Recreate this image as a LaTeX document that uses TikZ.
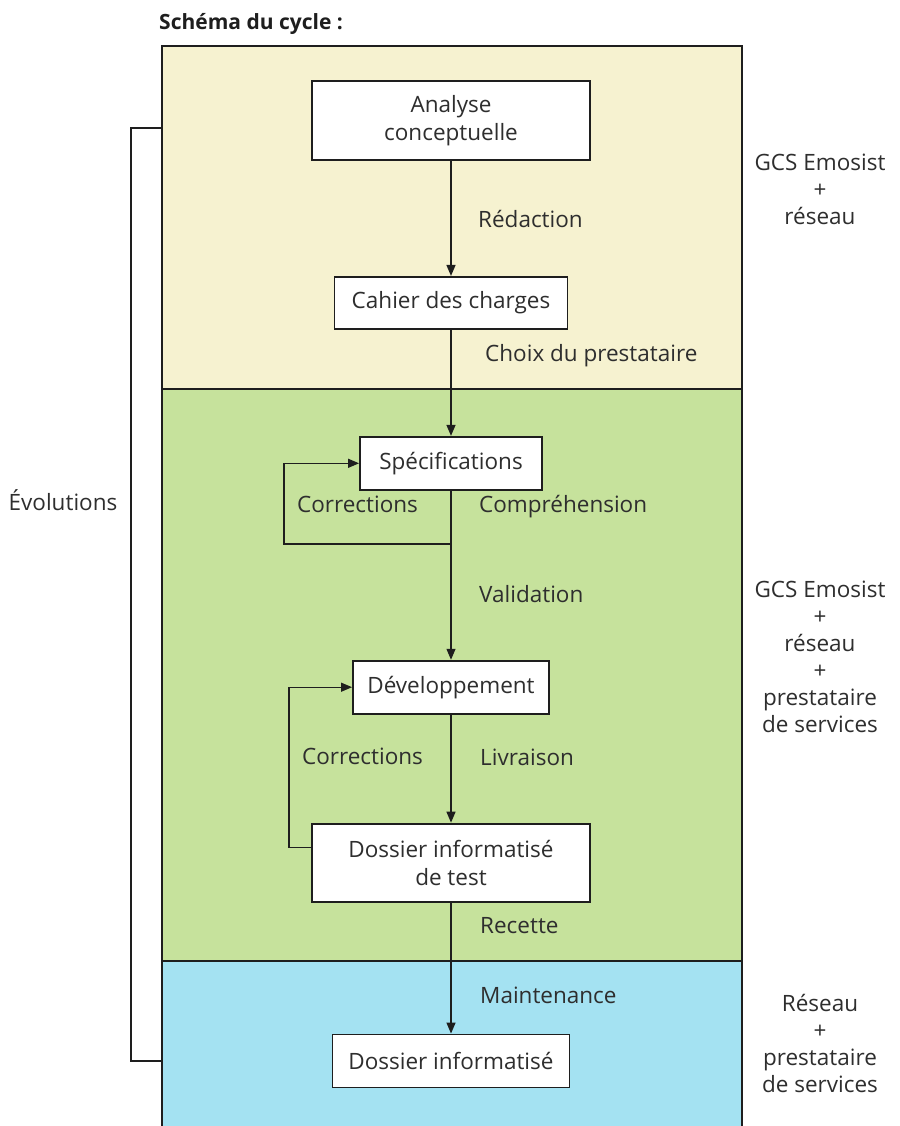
\documentclass[tikz,border=0pt]{standalone}
\usepackage{fontspec}
\setmainfont{Open Sans}
\usetikzlibrary{arrows.meta,positioning}
\definecolor{cyJaune}{HTML}{F6F2D0}
\definecolor{cyVert}{HTML}{C6E29C}
\definecolor{cyBleu}{HTML}{A4E2F2}
\definecolor{cyTrait}{HTML}{1E1E1E}
\definecolor{cyEncre}{HTML}{2E2E2E}
\tikzset{
  cybox/.style={
    rectangle, draw=cyTrait, line width=1.9pt, fill=white,
    text=cyEncre, font=\fontsize{22.5}{28}\selectfont,
    align=center, inner sep=2pt
  },
  cylink/.style={-{Triangle[length=11pt,width=9pt]}, draw=cyTrait, line width=1.3pt},
  cyframe/.style={draw=cyTrait, line width=1.9pt},
  cybracket/.style={draw=cyTrait, line width=1.6pt},
  cylabel/.style={
    font=\fontsize{22.5}{28}\selectfont, text=cyEncre, anchor=west,
    inner sep=0pt, text height=16pt, text depth=5pt
  },
  cyside/.style={font=\fontsize{22.5}{27}\selectfont, text=cyEncre, align=center},
  cytitle/.style={font=\bfseries\fontsize{21}{25}\selectfont, text=cyTrait, anchor=west, inner sep=0pt}
}
\begin{document}
\begin{tikzpicture}[x=1pt,y=-1pt]
\useasboundingbox (0,0) rectangle (899,1126);

% Bandes de fond
\fill[cyJaune] (162,46) rectangle (742,389);
\fill[cyVert] (162,389) rectangle (742,961);
\fill[cyBleu] (162,961) rectangle (742,1126);
\draw[cyframe] (162,1126) -- (162,46) -- (742,46) -- (742,1126);
\draw[cyframe] (162,389) -- (742,389);
\draw[cyframe] (162,961) -- (742,961);

% Titre
\node[cytitle] (titre) at (159,24) {Schéma du cycle :};

% Etapes du cycle
\node[cybox, minimum width=278pt, minimum height=79pt] (analyse) at (451,120.5) {Analyse\\conceptuelle};
\node[cybox, minimum width=233pt, minimum height=52pt, below=115pt of analyse] (cahier) {Cahier des charges};
\node[cybox, minimum width=182pt, minimum height=53pt, below=106pt of cahier] (spec) {Spécifications};
\node[cybox, minimum width=196pt, minimum height=53pt, below=169pt of spec] (dev) {Développement};
\node[cybox, minimum width=278pt, minimum height=78pt, below=108pt of dev] (dtest) {Dossier informatisé\\de test};
\node[cybox, minimum width=237pt, minimum height=53pt, below=131pt of dtest] (dinfo) {Dossier informatisé};

% Enchainement
\draw[cylink] (analyse) -- (cahier);
\draw[cylink] (cahier) -- (spec);
\draw[cylink] (spec) -- (dev);
\draw[cylink] (dev) -- (dtest);
\draw[cylink] (dtest) -- (dinfo);

% Boucles de corrections
\coordinate (retourA) at (451,544);
\draw[cylink] (retourA) -- ++(-167,0) |- (spec.west);
\draw[cylink] ([yshift=15pt]dtest.west) -- ++(-22,0) |- (dev.west);

% Libelles des transitions
\node[cylabel] (redaction) at (478,222) {Rédaction};
\node[cylabel] (choix) at (485,356) {Choix du prestataire};
\node[cylabel] (compr) at (479,507) {Compréhension};
\node[cylabel] (valid) at (479,597) {Validation};
\node[cylabel] (livr) at (480,760) {Livraison};
\node[cylabel] (recette) at (480,928) {Recette};
\node[cylabel] (maint) at (480,998) {Maintenance};
\node[cylabel, anchor=center] (corrA) at (357.5,507) {Corrections};
\node[cylabel, anchor=center] (corrB) at (362.5,759) {Corrections};

% Evolutions
\coordinate (evoHaut) at (162,128);
\coordinate (evoBas) at (162,1061);
\draw[cybracket] (evoHaut) -- ++(-31,0) |- (evoBas);
\node[cyside] (evol) at (63,500) {Évolutions};

% Acteurs
\node[cyside] (acteursA) at (820,189) {GCS Emosist\\+\\réseau};
\node[cyside] (acteursB) at (820,657) {GCS Emosist\\+\\réseau\\+\\prestataire\\de services};
\node[cyside] (acteursC) at (820,1043) {Réseau\\+\\prestataire\\de services};

\end{tikzpicture}
\end{document}
